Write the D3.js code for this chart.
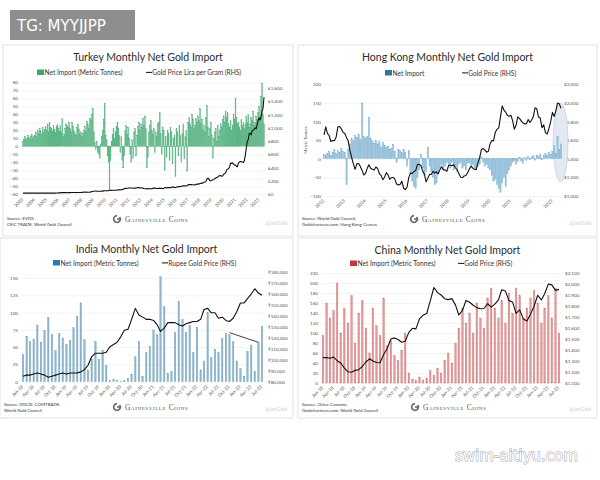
<!DOCTYPE html>
<html>
<head>
<meta charset="utf-8">
<script src="https://cdn.jsdelivr.net/npm/d3@7"></script>
<style>
  body { margin: 0; background: #fff; }
  svg { display: block; font-family: Lato, 'Open Sans', sans-serif; }
</style>
</head>
<body>
<svg id="chart" width="600" height="480"></svg>
<script>
// Turkey, monthly from Jan 2003 (tonnes) and lira per gram
const turkeyImports = [
  6, 9, 12, 8, 10, 14, 11, 9, 13, 15, 10, 12,
  14, 18, 12, 20, 16, 22, 19, 15, 24, 17, 21, 25,
  20, 28, 18, 30, 24, 22, 19, 26, 21, 17, 25, 27,
  23, 19, 26, 18, 35, 12, 15, 22, 28, 26, 24, 30,
  22, 18, 30, 25, 19, 16, 14, 24, 27, 21, 15, 18,
  12, 16, 20, 25, 18, 31, 28, 22, 35, 33, 40, 47,
  18, 5, -4, 6, -8, -10, -15, 3, 12, 20, 34, 54,
  14, 8, -12, -20, -55, -18, 6, 15, 22, 10, 18, 25,
  30, 22, 14, -8, 12, -18, -27, -12, 20, 26, 15, 24,
  10, -10, -20, 8, -15, 18, 22, -12, 14, 25, 30, 20,
  28, 24, 35, 26, 38, 22, -27, -14, 18, 26, 32, 20,
  15, 22, -8, 18, 12, 28, 30, 42, 16, -10, 24, 20,
  -30, 12, -14, 20, 16, -18, 24, 18, -22, 10, 14, -38,
  22, 18, -12, 26, 14, -20, 16, 28, -16, 12, 20, -31,
  30, 36, 28, 24, 40, 34, 22, 26, 35, 30, 38, 32,
  47, 28, 34, 20, 26, 18, 36, 51, 24, 12, 22, 30,
  14, -15, 10, 18, 22, 6, 26, 12, 20, 28, 24, 34,
  38, 30, 44, 36, 42, 28, 24, 32, 20, 26, 40, 34,
  60, 36, 28, 30, 24, 20, 34, 26, 30, 22, 28, 38,
  30, 40, 24, 28, 36, 32, 44, 26, 30, 38, 34, 42,
  50, 36, 62, 79, 40, 28
]
const turkeyPrice = [
  18, 18, 17, 17, 17, 17, 17, 17, 18, 18, 18, 18,
  18, 18, 18, 17, 17, 17, 17, 18, 18, 18, 18, 18,
  17, 17, 17, 17, 17, 17, 17, 17, 18, 18, 19, 20,
  21, 22, 22, 25, 27, 25, 25, 26, 25, 24, 25, 25,
  25, 26, 27, 27, 27, 26, 25, 26, 27, 27, 27, 27,
  29, 31, 33, 33, 32, 33, 32, 30, 32, 37, 40, 41,
  45, 50, 50, 46, 45, 45, 46, 47, 48, 48, 52, 53,
  53, 53, 53, 55, 60, 62, 59, 60, 61, 61, 62, 62,
  64, 66, 67, 69, 71, 71, 74, 88, 90, 87, 90, 95,
  95, 95, 95, 94, 92, 92, 93, 94, 100, 100, 98, 97,
  96, 94, 93, 88, 84, 83, 81, 87, 86, 84, 83, 82,
  89, 93, 94, 89, 87, 88, 89, 89, 89, 90, 85, 87,
  100, 98, 97, 101, 103, 101, 99, 104, 109, 108, 104, 101,
  106, 114, 118, 114, 118, 119, 126, 127, 127, 125, 126, 131,
  146, 146, 145, 146, 143, 143, 139, 145, 151, 150, 157, 153,
  163, 164, 168, 172, 182, 185, 195, 228, 245, 228, 204, 206,
  212, 218, 224, 235, 244, 252, 258, 278, 278, 281, 273, 276,
  302, 312, 323, 367, 380, 385, 412, 470, 465, 475, 450, 438,
  440, 420, 415, 470, 485, 495, 490, 485, 480, 510, 590, 700,
  800, 825, 915, 920, 895, 960, 965, 980, 1000, 985, 1050, 1110,
  1150, 1120, 1170, 1250, 1290, 1460
]
const turkeyYears = d3.range(2003, 2024)

// Hong Kong, monthly from Jan 2012 (tonnes) and USD per ounce
const hkImports = [
  12, 8, 15, 20, 10, 18, 25, 14, 22, 16, 28, 20,
  18, -70, 25, 40, 55, 48, 62, 58, 66, 52, 150, 60,
  55, 60, 110, 54, 48, 42, 50, 40, 46, 32, 44, 36,
  30, 34, 24, 28, 38, 20, -10, 26, 22, 16, 24, 18,
  -20, 22, -40, -60, -75, -80, -50, -30, 12, -25, -45, -35,
  30, -20, -35, -50, -70, -65, -40, -25, -15, -30, -20, -10,
  -15, -25, -10, -30, -20, -35, -15, -10, -25, -20, -30, -12,
  -10, -20, -15, -25, -30, -20, -15, 5, -10, -20, -15, -25,
  -30, -45, -60, -55, -70, -80, -90, -65, -50, -75, -40, -30,
  -20, -10, -5, -15, -8, 4, -6, -12, 3, -4, 6, -3,
  5, 8, -4, 10, 6, 12, -3, 8, 14, 10, 18, 12,
  20, 35, 15, 60, 25, 40
]
const usdGold = [
  1656, 1742, 1673, 1650, 1585, 1596, 1594, 1630, 1744, 1747, 1721, 1684,
  1671, 1627, 1593, 1487, 1414, 1343, 1286, 1347, 1349, 1316, 1275, 1225,
  1244, 1300, 1336, 1299, 1287, 1279, 1311, 1296, 1239, 1222, 1176, 1201,
  1251, 1227, 1179, 1198, 1199, 1181, 1128, 1118, 1125, 1159, 1086, 1068,
  1097, 1200, 1246, 1242, 1261, 1276, 1337, 1341, 1326, 1267, 1236, 1152,
  1192, 1234, 1231, 1266, 1246, 1260, 1236, 1283, 1314, 1280, 1281, 1265,
  1331, 1331, 1325, 1335, 1303, 1282, 1238, 1202, 1198, 1215, 1221, 1250,
  1291, 1320, 1300, 1286, 1284, 1359, 1413, 1500, 1510, 1495, 1471, 1480,
  1560, 1597, 1592, 1683, 1716, 1732, 1847, 1968, 1922, 1900, 1866, 1858,
  1867, 1808, 1718, 1760, 1850, 1834, 1807, 1785, 1775, 1777, 1821, 1790,
  1817, 1856, 1948, 1937, 1849, 1837, 1733, 1765, 1681, 1664, 1726, 1798,
  1898, 1855, 1912, 1999, 1992, 1942, 1951
]
const hkPrice = usdGold.slice(0, 138)
const hkYears = d3.range(2012, 2024)
const hkHighlight = { from: new Date(2023, 0, 15), to: new Date(2023, 9, 1), low: -62, high: 150 }

// India, monthly from Jan 2018 (tonnes) and rupees per ounce (thousands)
const indiaImports = [
  39, 66, 58, 61, 82, 57, 74, 93, 68, 45, 70, 63,
  54, 60, 78, 95, 114, 61, 17, 33, 58, 32, 45, 24,
  2, 3, 2, 1, 2, 5, 10, 36, 58, 8, 42, 51,
  75, 68, 152, 109, 12, 15, 71, 116, 90, 71, 81, 42,
  79, 17, 29, 100, 35, 47, 42, 63, 70, 68, 58, 30,
  19, 8, 44, 53, 15, 57, 80
]
const indiaPrice = [
  85, 86, 86, 87, 88, 87, 86, 84, 85, 86, 87, 88,
  87, 88, 88, 88, 89, 91, 95, 103, 106, 106, 106, 107,
  112, 114, 116, 121, 127, 128, 137, 147, 141, 139, 137, 137,
  136, 132, 126, 129, 134, 134, 134, 132, 131, 133, 134, 135,
  135, 137, 146, 147, 143, 143, 138, 139, 136, 135, 138, 144,
  152, 152, 156, 160, 165, 161, 159
]
const indiaTrend = [[new Date(2022, 9, 1), 71], [new Date(2023, 5, 1), 57]]

// China, monthly from Jan 2018 (tonnes) and USD per ounce
const chinaImports = [
  95, 160, 130, 145, 200, 100, 150, 120, 175, 80, 140, 165,
  110, 60, 150, 115, 95, 170, 75, 85, 55, 45, 65, 100,
  20, 8, 5, 12, 6, 10, 25, 15, 30, 20, 45, 60,
  40, 80, 110, 150, 120, 140, 100, 160, 130, 110, 170, 190,
  150, 130, 165, 120, 180, 140, 190, 175, 130, 150, 170, 185,
  160, 120, 150, 175, 130, 190, 100
]
const chinaPrice = usdGold.slice(72)

const quarterTicks = d3.range(0, 67, 3).map(i => new Date(2018, i, 1))

const svg = d3.select('#chart')

const monthDates = (start, n) => d3.range(n).map(i => d3.timeMonth.offset(start, i))

const drawLogo = (g, x, y) => {
  const logo = g.append('g').attr('transform', 'translate(' + x + ', ' + y + ')')
  logo.append('path')
    .attr('d', d3.arc()({ innerRadius: 2.4, outerRadius: 4.2, startAngle: 0.9, endAngle: 2 * Math.PI }))
    .attr('fill', '#6d6d6d')
  logo.append('rect').attr('x', 0).attr('y', -0.8).attr('width', 4.2).attr('height', 1.6).attr('fill', '#6d6d6d')
  logo.append('text')
    .attr('x', 8).attr('y', 2.6)
    .attr('font-family', "'Liberation Serif', 'DejaVu Serif', serif")
    .attr('font-size', 7.5).attr('letter-spacing', 0.6).attr('fill', '#555')
    .style('font-variant', 'small-caps')
    .text('Gainesville Coins')
}

const drawPanel = (p) => {
  const g = svg.append('g')
  g.append('rect')
    .attr('x', p.box[0]).attr('y', p.box[1]).attr('width', p.box[2]).attr('height', p.box[3])
    .attr('fill', '#fff').attr('stroke', '#e2e2e2').attr('stroke-width', 1)

  g.append('text')
    .attr('x', p.box[0] + p.box[2] / 2).attr('y', p.titleY)
    .attr('text-anchor', 'middle').attr('font-size', 10.5).attr('fill', '#2b2b2b')
    .text(p.title)

  // legend
  const legend = g.append('g').attr('font-size', 6.6).attr('fill', '#333')
  legend.append('rect').attr('x', p.legend[0]).attr('y', p.legendY - 5.5).attr('width', 7).attr('height', 5.5).attr('fill', p.keyColor)
  legend.append('text').attr('x', p.legend[0] + 7.5).attr('y', p.legendY).text(p.barLabel)
  legend.append('line')
    .attr('x1', p.legend[1]).attr('x2', p.legend[1] + 6)
    .attr('y1', p.legendY - 2.6).attr('y2', p.legendY - 2.6)
    .attr('stroke', '#111').attr('stroke-width', 1)
  legend.append('text').attr('x', p.legend[1] + 6.3).attr('y', p.legendY).text(p.lineLabel)

  const dates = monthDates(p.start, p.imports.length)
  const x = d3.scaleTime().domain([p.start, dates[dates.length - 1]]).range(p.xRange)
  const yL = d3.scaleLinear().domain(p.leftDomain).range(p.yRange)
  const yR = d3.scaleLinear().domain(p.rightDomain).range(p.yRangeR || p.yRange)

  const gridWidth = p.gridX[1] - p.gridX[0]
  const leftAxis = d3.axisLeft(yL).tickValues(p.leftTicks).tickSize(-gridWidth).tickPadding(3)
  const la = g.append('g')
    .attr('transform', 'translate(' + p.gridX[0] + ', 0)')
    .call(leftAxis)
  la.select('.domain').remove()
  la.selectAll('line').attr('stroke', '#ebebeb').attr('stroke-width', 0.6)
  la.selectAll('text').attr('font-size', 4.6).attr('fill', '#555').attr('font-family', 'Lato, sans-serif')

  const rightAxis = d3.axisRight(yR).tickValues(p.rightTicks).tickFormat(p.rightFormat).tickSize(0).tickPadding(0)
  const ra = g.append('g')
    .attr('transform', 'translate(' + p.rightX + ', 0)')
    .call(rightAxis)
  ra.select('.domain').remove()
  ra.selectAll('text').attr('font-size', 4.6).attr('fill', '#555').attr('font-family', 'Lato, sans-serif')

  if (p.highlight) {
    const h = p.highlight
    g.append('ellipse')
      .attr('cx', (x(h.from) + x(h.to)) / 2).attr('cy', (yL(h.low) + yL(h.high)) / 2)
      .attr('rx', (x(h.to) - x(h.from)) / 2).attr('ry', (yL(h.low) - yL(h.high)) / 2)
      .attr('fill', '#e3e8f3').attr('stroke', '#b9c3d9').attr('stroke-width', 0.6)
  }

  g.append('g').selectAll('rect')
    .data(p.imports).enter()
    .append('rect')
    .attr('x', (d, i) => x(dates[i]) - p.barWidth / 2)
    .attr('y', d => Math.min(yL(d), yL(0)))
    .attr('width', p.barWidth)
    .attr('height', d => Math.abs(yL(d) - yL(0)))
    .attr('fill', p.barColor)
    .attr('stroke', p.barStroke || 'none')
    .attr('stroke-width', 0.3)

  const line = d3.line()
    .x((d, i) => x(dates[i]))
    .y(d => yR(d))
  g.append('path')
    .datum(p.price)
    .attr('d', line)
    .attr('fill', 'none').attr('stroke', '#111').attr('stroke-width', 1.1)
    .attr('stroke-linejoin', 'round')

  if (p.trend) {
    g.append('line')
      .attr('x1', x(p.trend[0][0])).attr('y1', yL(p.trend[0][1]))
      .attr('x2', x(p.trend[1][0])).attr('y2', yL(p.trend[1][1]))
      .attr('stroke', '#111').attr('stroke-width', 0.8)
  }

  const bottomAxis = d3.axisBottom(x).tickValues(p.xTicks).tickFormat(p.xFormat).tickSize(0).tickPadding(0)
  const ba = g.append('g')
    .attr('transform', 'translate(0, ' + p.xAxisY + ')')
    .call(bottomAxis)
  ba.select('.domain').remove()
  ba.selectAll('text')
    .attr('font-size', 4.6).attr('fill', '#555').attr('font-family', 'Lato, sans-serif')
    .attr('text-anchor', 'end')
    .attr('dy', 0).attr('dx', 0)
    .attr('transform', 'rotate(-45)')

  if (p.yTitle) {
    g.append('text')
      .attr('transform', 'translate(' + p.yTitle[0] + ', ' + p.yTitle[1] + ') rotate(-90)')
      .attr('text-anchor', 'middle').attr('font-size', 4.4).attr('fill', '#555')
      .text('Metric Tonnes')
  }

  const src = g.append('g').attr('font-size', 4.4).attr('fill', '#333')
  p.source.forEach((s, i) => {
    src.append('text').attr('x', p.box[0] + 4).attr('y', p.sourceY + i * 5.5).text(s)
  })

  drawLogo(g, p.logo[0], p.logo[1])

  g.append('text')
    .attr('x', p.box[0] + p.box[2] - 6).attr('y', p.sourceY + 5)
    .attr('text-anchor', 'end').attr('font-size', 5).attr('fill', '#d0d0d0')
    .text('@JanGold')
}

drawPanel({
  box: [3, 45, 290, 191], title: 'Turkey Monthly Net Gold Import', titleY: 61,
  legend: [37, 146], legendY: 75, keyColor: '#37a96b',
  barLabel: 'Net Import (Metric Tonnes)', lineLabel: 'Gold Price Lira per Gram (RHS)',
  imports: turkeyImports, price: turkeyPrice, start: new Date(2003, 0, 1),
  xRange: [23, 264], gridX: [21, 266],
  leftDomain: [-60, 80], yRange: [194.3, 82.3], leftTicks: d3.range(-60, 81, 10),
  rightDomain: [0, 1600], yRangeR: [194.3, 88], rightTicks: d3.range(0, 1601, 200),
  rightFormat: d => '₺' + d3.format(',')(d), rightX: 268,
  xTicks: turkeyYears.map(y => new Date(y, 0, 1)), xFormat: d3.timeFormat('%Y'), xAxisY: 200,
  barColor: '#6cc495', barStroke: '#3f9f6a', barWidth: 0.9,
  source: ['Source: EVDS,', 'CEIC TRADE, World Gold Council'], sourceY: 220, logo: [117, 219]
})

drawPanel({
  box: [298, 45, 299, 191], title: 'Hong Kong Monthly Net Gold Import', titleY: 61,
  legend: [385, 462], legendY: 75.5, keyColor: '#2f76a8',
  barLabel: 'Net Import', lineLabel: 'Gold Price (RHS)',
  imports: hkImports, price: hkPrice, start: new Date(2012, 0, 1),
  xRange: [324, 561], gridX: [324, 562],
  leftDomain: [-100, 200], yRange: [196, 84.3], leftTicks: d3.range(-100, 201, 50),
  rightDomain: [1000, 2200], rightTicks: d3.range(1000, 2201, 200),
  rightFormat: d => '$' + d3.format(',')(d), rightX: 564,
  xTicks: hkYears.map(y => new Date(y, 0, 1)), xFormat: d3.timeFormat('%Y'), xAxisY: 201,
  barColor: '#9cc6e0', barStroke: '#6aa3c8', barWidth: 1.3,
  highlight: hkHighlight, yTitle: [307, 140],
  source: ['Source: World Gold Council,', 'Goldchartsrus.com, Hong Kong Census'], sourceY: 220, logo: [414, 219]
})

drawPanel({
  box: [0, 238, 293, 180], title: 'India Monthly Net Gold Import', titleY: 253,
  legend: [53, 162], legendY: 265.5, keyColor: '#2f78b4',
  barLabel: 'Net Import (Metric Tonnes)', lineLabel: 'Rupee Gold Price (RHS)',
  imports: indiaImports, price: indiaPrice, start: new Date(2018, 0, 1),
  xRange: [23, 262], gridX: [21, 265],
  leftDomain: [0, 150], yRange: [381.7, 278], leftTicks: d3.range(0, 151, 25),
  rightDomain: [80, 180], yRangeR: [381.7, 272.3], rightTicks: d3.range(80, 181, 10),
  rightFormat: d => '₹' + d3.format(',')(d * 1000), rightX: 268,
  xTicks: quarterTicks, xFormat: d3.timeFormat('%b-%y'), xAxisY: 387,
  barColor: '#8fb8cf', barStroke: '#5f93b3', barWidth: 1.5,
  trend: indiaTrend,
  source: ['Source: DGCIS, COMTRADE,', 'World Gold Council'], sourceY: 406, logo: [117, 407]
})

drawPanel({
  box: [298, 238, 299, 180], title: 'China Monthly Net Gold Import', titleY: 254,
  legend: [350, 458], legendY: 266, keyColor: '#c0393b',
  barLabel: 'Net Import (Metric Tonnes)', lineLabel: 'Gold Price (RHS)',
  imports: chinaImports, price: chinaPrice, start: new Date(2018, 0, 1),
  xRange: [323, 559], gridX: [321, 562],
  leftDomain: [0, 220], yRange: [383, 273], leftTicks: d3.range(0, 221, 20),
  rightDomain: [1100, 2100], rightTicks: d3.range(1100, 2101, 100),
  rightFormat: d => '$' + d3.format(',')(d), rightX: 565,
  xTicks: quarterTicks, xFormat: d3.timeFormat('%b-%y'), xAxisY: 388,
  barColor: '#e49a9a', barStroke: '#c96060', barWidth: 1.6,
  source: ['Source: China Customs,', 'Goldchartsrus.com, World Gold Council'], sourceY: 406, logo: [415, 407]
})

// overlays on the screenshot
svg.append('rect').attr('x', 10).attr('y', 10).attr('width', 125).attr('height', 30)
  .attr('fill', '#8e8e8e')
svg.append('text').attr('x', 17).attr('y', 30.5)
  .attr('font-size', 15).attr('fill', '#fff').attr('font-family', "'DejaVu Sans', sans-serif")
  .text('TG: MYYJJPP')

svg.append('text').attr('x', 455).attr('y', 461)
  .attr('font-size', 15).attr('fill', '#fff')
  .attr('stroke', '#9a9a9a').attr('stroke-width', 0.9).style('paint-order', 'stroke')
  .attr('font-family', "'DejaVu Sans', sans-serif")
  .text('swim-aitiyu.com')
</script>
</body>
</html>
